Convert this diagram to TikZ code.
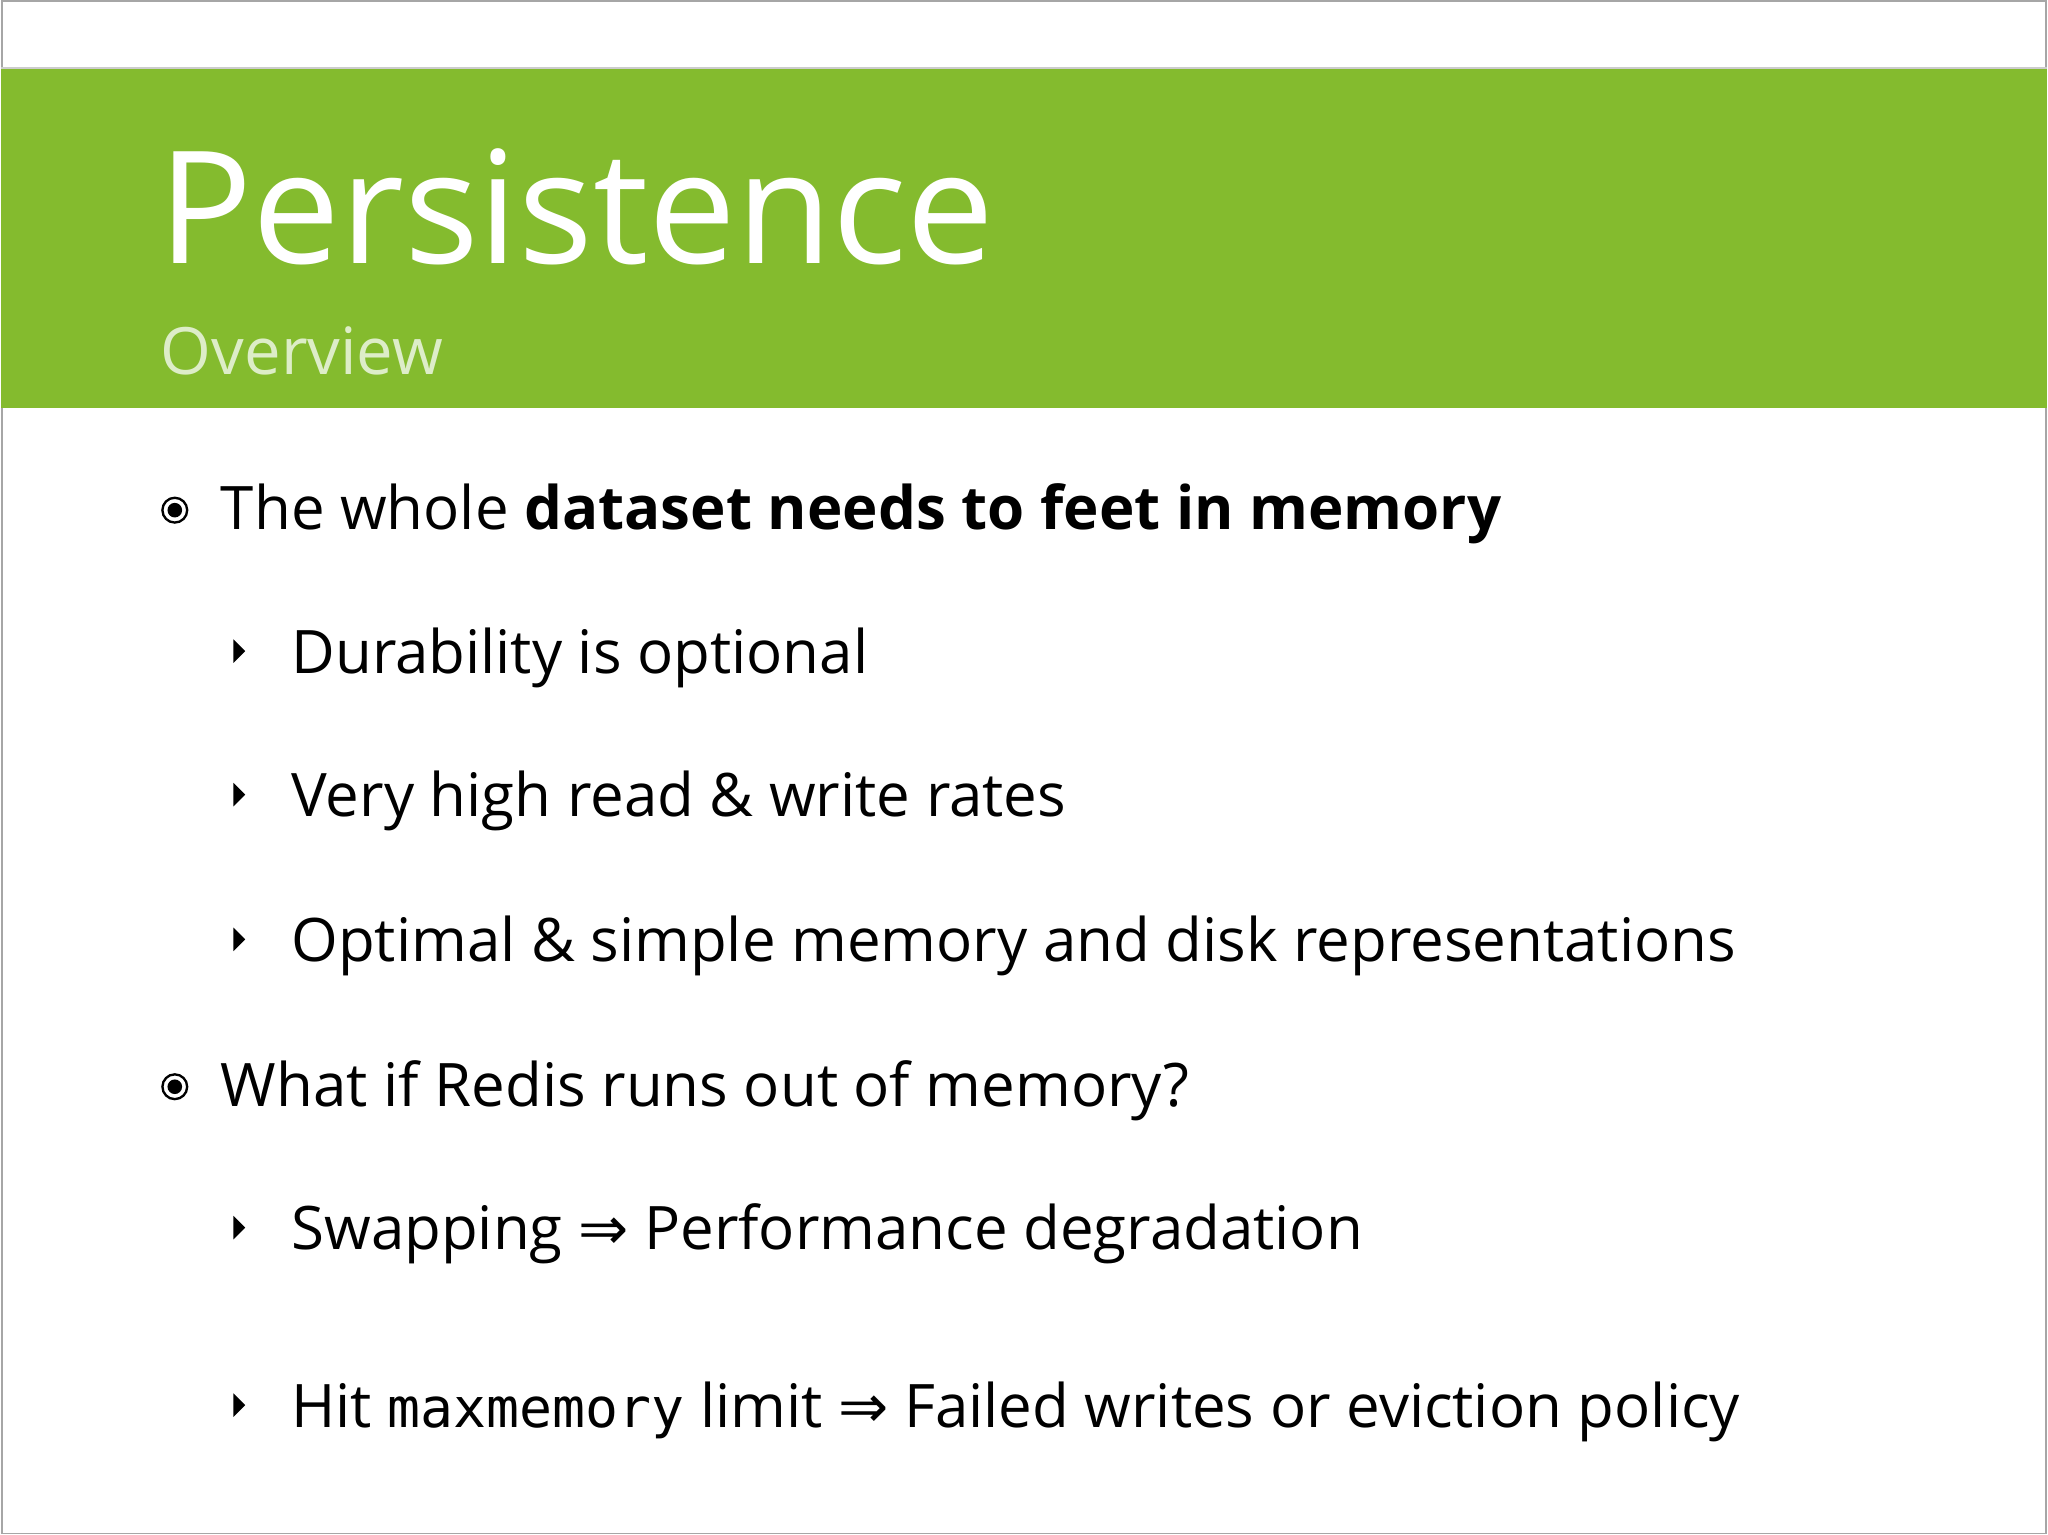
\documentclass[tikz,border=0pt]{standalone}
\usepackage{fontspec}
\setmainfont{Open Sans}
\newfontfamily\monof{DejaVu Sans Mono}
\newfontfamily\symf{DejaVu Sans}
\definecolor{hdr}{HTML}{84BB2E}
\definecolor{sub}{HTML}{DDEDC8}
\begin{document}
\begin{tikzpicture}[x=0.5pt,y=-0.5pt,
  lvlone/.style={anchor=base west,inner sep=0pt,font=\fontsize{23}{27}\selectfont},
  lvltwo/.style={anchor=base west,inner sep=0pt,font=\fontsize{23}{27}\selectfont},
  bul/.style={circle,draw=black,line width=0.9pt,minimum size=9.5pt,inner sep=0pt}]
\fill[white] (0,0) rectangle (1568,1176);
\draw[gray!70,line width=0.6pt] (0.5,0.5) rectangle (1567.5,1175.5);
\fill[hdr] (0,52) rectangle (1568,313);
\draw[gray!40,line width=1pt] (0,52) -- (1568,52);
\node (title) [anchor=base west,inner sep=0pt,text=white,font=\fontsize{60}{64}\selectfont] at (120,202) {Persistence};
\node (subt) [anchor=base west,inner sep=0pt,text=sub,font=\fontsize{25}{29}\selectfont] at (122,287) {Overview};

\foreach \n/\y in {a/391,b/833}{
  \node (c\n) [bul] at (133,\y) {};
  \fill (133,\y) circle (2.8pt);
}
\foreach \n/\y in {1/499,2/609,3/720,4/941,5/1077}{
  \fill (178,\y-9) -- (187,\y) -- (178,\y+9) -- cycle;
}
\node (t1) [lvlone] at (168,406) {The whole \textbf{dataset needs to feet in memory}};
\node (t2) [lvltwo] at (222,516) {Durability is optional};
\node (t3) [lvltwo] at (222,626) {Very high read \& write rates};
\node (t4) [lvltwo] at (222,737) {Optimal \& simple memory and disk representations};
\node (t5) [lvlone] at (168,848) {What if Redis runs out of memory?};
\node (t6) [lvltwo] at (222,958) {Swapping {\symf ⇒} Performance degradation};
\node (t7) [lvltwo] at (222,1094) {Hit {\monof\fontsize{21}{25}\selectfont maxmemory} limit {\symf ⇒} Failed writes or eviction policy};
\end{tikzpicture}
\end{document}
